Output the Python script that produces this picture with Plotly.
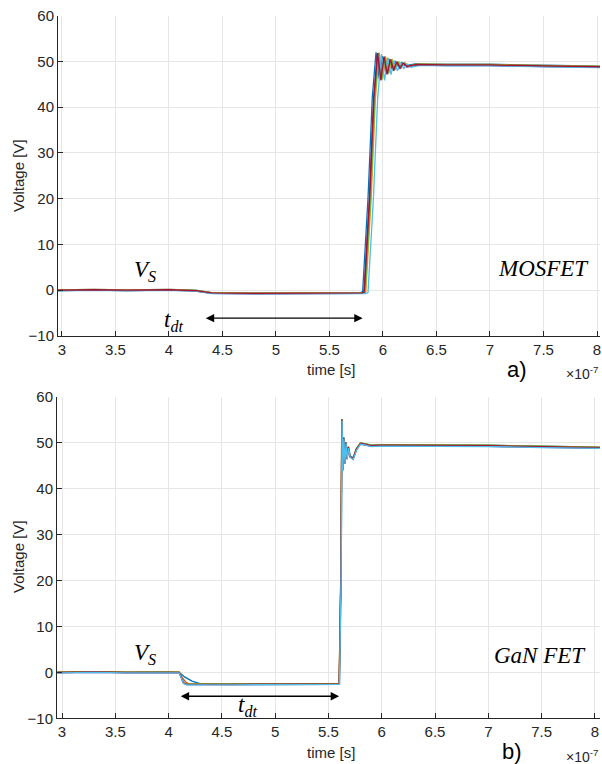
import plotly.graph_objects as go

# MATLAB default line colour order
colors = ["#0072BD", "#D95319", "#EDB120", "#7E2F8E", "#77AC30", "#4DBEEE", "#A2142F"]

# ---- (a) MOSFET: switch-node voltage, time in units of 1e-7 s ----
mos_t = [2.96, 3.3, 3.6, 4.0, 4.25, 4.32, 4.4, 4.8, 5.3, 5.79, 5.81, 5.86, 5.90,
         5.935, 5.965, 5.995, 6.025, 6.055, 6.085, 6.115, 6.145, 6.175, 6.21, 6.3,
         6.6, 7.0, 7.5, 8.05]
mos_v = [0.0, 0.1, 0.0, 0.1, -0.1, -0.4, -0.6, -0.7, -0.6, -0.6, -0.4, 20.0, 42.0,
         51.8, 46.0, 51.0, 47.3, 50.4, 48.1, 49.9, 48.6, 49.6, 48.9, 49.3,
         49.2, 49.2, 49.0, 48.8]
mos_delay = [0.0, 0.02, 0.03, 0.012, 0.025, 0.05, 0.015]
mos_offset = [0.15, -0.1, 0.1, -0.15, 0.05, -0.2, 0.0]

# ---- (b) GaN FET ----
gan_t = [2.955, 3.3, 3.6, 4.0, 4.1, 4.14, 4.17, 4.6, 5.1, 5.6, 5.615, 5.625,
         5.632, 5.642, 5.652, 5.662, 5.672, 5.685, 5.70, 5.73, 5.76, 5.80, 5.85,
         5.9, 6.0, 6.5, 7.0, 7.5, 8.05]
gan_v = [0.0, 0.1, 0.0, 0.1, 0.0, -2.3, -2.6, -2.6, -2.5, -2.5, 20.0, 55.0,
         44.0, 51.0, 45.5, 50.0, 46.5, 49.0, 47.0, 46.5, 48.5, 49.8, 49.6,
         49.3, 49.4, 49.4, 49.3, 49.1, 48.9]
gan_delay = [0.004, 0.0, 0.002, 0.001, 0.0, 0.003, 0.001]
gan_offset = [0.1, -0.1, 0.05, -0.15, 0.1, -0.2, 0.0]
# draw order for panel (b): light blue ends up on top
gan_order = [0, 1, 2, 3, 4, 6, 5]
# slower turn-off transitions of the first two GaN traces
gan_slow_t = [[4.1, 4.15, 4.22, 4.3], [4.1, 4.13, 4.16, 4.2]]
gan_slow_v = [[0.0, -1.0, -1.9, -2.5], [0.0, -1.2, -2.1, -2.6]]

x_ticks = [3, 3.5, 4, 4.5, 5, 5.5, 6, 6.5, 7, 7.5, 8]
x_labels = ["3", "3.5", "4", "4.5", "5", "5.5", "6", "6.5", "7", "7.5", "8"]
y_ticks = [-10, 0, 10, 20, 30, 40, 50, 60]

fig = go.Figure()

for i, c in enumerate(colors):
    t = [x + mos_delay[i] if 5.7 < x < 6.4 else x for x in mos_t]
    v = [y + mos_offset[i] * (1 if y > 20 else 0.6) for y in mos_v]
    fig.add_trace(go.Scatter(x=t, y=v, mode="lines", line=dict(color=c, width=1.3),
                             xaxis="x", yaxis="y", showlegend=False, hoverinfo="skip"))

for i in gan_order:
    c = colors[i]
    t = [x + gan_delay[i] if 5.5 < x < 5.8 else x for x in gan_t]
    v = [y + gan_offset[i] * (1 if y > 20 else 0.6) for y in gan_v]
    if i < 2:
        pts = [(a, b) for a, b in zip(t, v) if not (4.1 <= a <= 4.3)]
        pts += list(zip(gan_slow_t[i], gan_slow_v[i]))
        pts.sort()
        t = [p[0] for p in pts]
        v = [p[1] for p in pts]
    fig.add_trace(go.Scatter(x=t, y=v, mode="lines", line=dict(color=c, width=1.3),
                             xaxis="x2", yaxis="y2", showlegend=False, hoverinfo="skip"))

W, H = 602, 764
font = dict(family="Liberation Sans, Arial, sans-serif", size=15, color="#262626")
serif = dict(family="Liberation Serif, Times New Roman, serif", size=23, color="#000000")

axis_common = dict(
    showgrid=True, gridcolor="#e6e6e6", gridwidth=1,
    showline=True, linecolor="#262626", linewidth=1,
    ticks="inside", ticklen=5, tickcolor="#262626",
    zeroline=False, tickfont=font, mirror=False, automargin=False,
)

fig.update_layout(
    width=W, height=H,
    margin=dict(l=0, r=0, t=0, b=0, autoexpand=False),
    paper_bgcolor="white", plot_bgcolor="white",
    xaxis=dict(domain=[58 / W, 600 / W], range=[2.963, 8.028],
               tickvals=x_ticks, ticktext=x_labels, anchor="y", **axis_common),
    yaxis=dict(domain=[1 - 336 / H, 1 - 15.5 / H], range=[-10, 60],
               tickvals=y_ticks, anchor="x", **axis_common),
    xaxis2=dict(domain=[57 / W, 600 / W], range=[2.953, 8.048],
                tickvals=x_ticks, ticktext=x_labels, anchor="y2", **axis_common),
    yaxis2=dict(domain=[1 - 718.3 / H, 1 - 396.5 / H], range=[-10, 60],
                tickvals=y_ticks, anchor="x2", **axis_common),
)

def paper(xp, yp):
    return xp / W, 1 - yp / H

annotations = []

def ptext(txt, xp, yp, f, **kw):
    x, y = paper(xp, yp)
    annotations.append(dict(text=txt, x=x, y=y, xref="paper", yref="paper",
                            showarrow=False, font=f, xanchor="center",
                            yanchor="middle", **kw))

# axis titles, exponent labels and panel labels
for (ycen, ttl, expo, plab, px, py) in [(176, 369, 373, "a)", 517, 369),
                                         (557, 752, 756, "b)", 512, 751)]:
    ptext("Voltage [V]", 18, ycen, font, textangle=-90)
    ptext("time [s]", 331, ttl, font)
    ptext("×10<sup>-7</sup>", 582, expo, dict(font, size=14))
    ptext(plab, px, py, dict(font, size=22, color="#000000"))

# in-plot labels
ptext("<i>V</i><sub><i>S</i></sub>", 145, 271, serif)
ptext("<i>MOSFET</i>", 543, 268, serif)
ptext("<i>t</i><sub><i>dt</i></sub>", 173, 321, serif)
ptext("<i>V</i><sub><i>S</i></sub>", 145, 654, serif)
ptext("<i>GaN FET</i>", 540, 655, serif)
ptext("<i>t</i><sub><i>dt</i></sub>", 247, 706, serif)

# dead-time arrows
for (xr, yr, x0, x1, yv) in [("x", "y", 4.33, 5.81, -6.1), ("x2", "y2", 4.10, 5.60, -5.2)]:
    annotations.append(dict(x=x1, y=yv, ax=x0, ay=yv, xref=xr, yref=yr, axref=xr, ayref=yr,
                            showarrow=True, arrowhead=2, startarrowhead=2,
                            arrowside="end+start", arrowsize=1.2, arrowwidth=1.4,
                            arrowcolor="#000000", text=""))

fig.update_layout(annotations=annotations)
fig.write_html("out.html")
